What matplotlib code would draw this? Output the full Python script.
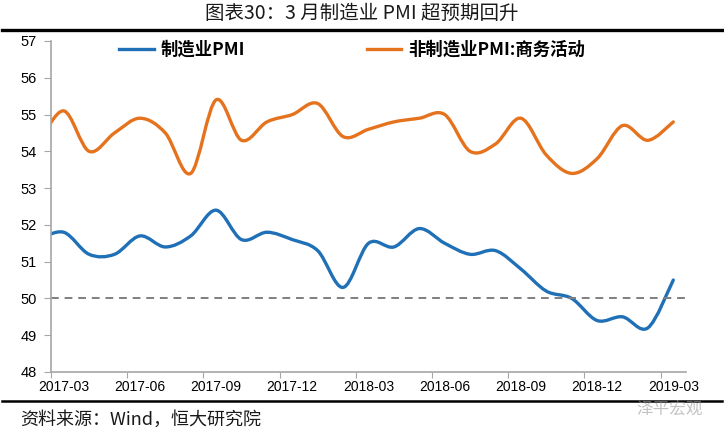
import numpy as np
import matplotlib
matplotlib.use('Agg')
import matplotlib.pyplot as plt
from matplotlib.path import Path
from matplotlib.patches import PathPatch
from matplotlib.lines import Line2D

plt.rcParams['font.family'] = ['Noto Sans CJK SC', 'DejaVu Sans']

# monthly data, 2017-02 .. 2019-03 (first point sits left of the axis and is clipped)
months = ['2017-02', '2017-03', '2017-04', '2017-05', '2017-06', '2017-07', '2017-08',
          '2017-09', '2017-10', '2017-11', '2017-12', '2018-01', '2018-02', '2018-03',
          '2018-04', '2018-05', '2018-06', '2018-07', '2018-08', '2018-09', '2018-10',
          '2018-11', '2018-12', '2019-01', '2019-02', '2019-03']
pmi_mfg = [51.6, 51.8, 51.2, 51.2, 51.7, 51.4, 51.7, 52.4, 51.6, 51.8, 51.6, 51.3, 50.3,
           51.5, 51.4, 51.9, 51.5, 51.2, 51.3, 50.8, 50.2, 50.0, 49.4, 49.5, 49.2, 50.5]
pmi_non_mfg = [54.2, 55.1, 54.0, 54.5, 54.9, 54.5, 53.4, 55.4, 54.3, 54.8, 55.0, 55.3, 54.4,
               54.6, 54.8, 54.9, 55.0, 54.0, 54.2, 54.9, 53.9, 53.4, 53.8, 54.7, 54.3, 54.8]
tick_labels = ['2017-03', '2017-06', '2017-09', '2017-12', '2018-03', '2018-06',
               '2018-09', '2018-12', '2019-03']
threshold = 50

blue = '#1f70b6'
orange = '#e5731e'


def smooth_path(x, y):
    # Excel-style smoothed line: Catmull-Rom segments as cubic Bezier curves
    pts = np.column_stack([x, y])
    p = np.vstack([pts[0], pts, pts[-1]])
    verts = [pts[0]]
    codes = [Path.MOVETO]
    for i in range(1, len(p) - 2):
        c1 = p[i] + (p[i + 1] - p[i - 1]) / 6
        c2 = p[i + 1] - (p[i + 2] - p[i]) / 6
        verts += [c1, c2, p[i + 1]]
        codes += [Path.CURVE4] * 3
    return Path(verts, codes)


x = np.arange(len(months)) - 0.5

fig = plt.figure(figsize=(7.24, 4.32), dpi=100)
ax = fig.add_axes([51 / 724, 1 - 372 / 432, 635 / 724, 331 / 432])

for vals, col in [(pmi_mfg, blue), (pmi_non_mfg, orange)]:
    ax.add_patch(PathPatch(smooth_path(x, vals), fill=False, edgecolor=col,
                           lw=2.4, capstyle='round', joinstyle='round'))

ax.axhline(threshold, color='#7f7f7f', lw=1.4, ls=(0, (4, 3)))

ax.set_xlim(0, 25)
ax.set_ylim(48, 57)
ax.set_yticks(np.arange(48, 58, 1))
ax.set_xticks(np.arange(0, 25, 3))
ax.set_xticklabels([])
ax.set_xticks(np.arange(len(tick_labels)) * 3 + 0.5, minor=True)
ax.set_xticklabels(tick_labels, minor=True, family='Liberation Sans', fontsize=10)
for lab in ax.get_yticklabels():
    lab.set_family('Liberation Sans')
    lab.set_fontsize(10.5)
ax.tick_params(axis='x', which='minor', length=0, pad=6)
ax.tick_params(axis='x', which='major', length=4, color='#a6a6a6', direction='out')
ax.tick_params(axis='y', length=5, color='#a6a6a6', direction='out', pad=5)

for s in ['top', 'right']:
    ax.spines[s].set_visible(False)
for s in ['left', 'bottom']:
    ax.spines[s].set_color('#a6a6a6')
    ax.spines[s].set_linewidth(1.2)

handles = [Line2D([], [], color=blue, lw=2.4), Line2D([], [], color=orange, lw=2.4)]
fig.legend(handles, ['制造业PMI', '非制造业PMI:商务活动'], ncol=2, frameon=False,
           loc='center left', bbox_to_anchor=(119 / 724, 1 - 50 / 432),
           prop={'weight': 'bold', 'size': 12.5}, handlelength=2.0, handletextpad=0.4,
           columnspacing=7.0, borderpad=0, borderaxespad=0)

fig.text(0.5, 1 - 13 / 432, '图表30：3 月制造业 PMI 超预期回升', ha='center', va='center',
         fontsize=14, color='#1a1a1a')
fig.add_artist(Line2D([0.003, 0.997], [1 - 29.5 / 432] * 2, color='black', lw=2.4))
fig.add_artist(Line2D([0.003, 0.997], [1 - 401 / 432] * 2, color='black', lw=1.8))
fig.text(20 / 724, 1 - 420 / 432, '资料来源：Wind，恒大研究院', ha='left', va='center',
         fontsize=13, color='#1a1a1a')
fig.text(636 / 724, 1 - 409 / 432, '泽平宏观', ha='left', va='center',
         fontsize=12, color='#9a9a9a', alpha=0.6)

fig.savefig('out.png', dpi=100)
